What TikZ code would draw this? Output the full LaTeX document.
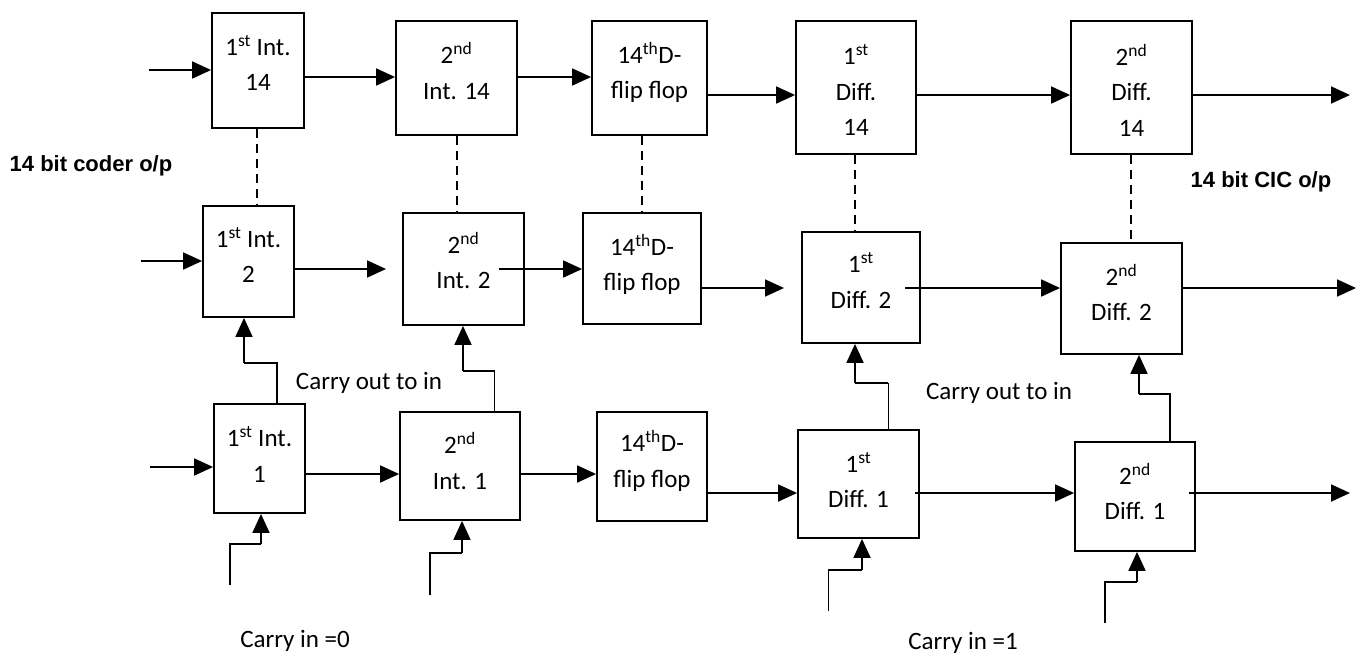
\documentclass[tikz,border=0pt]{standalone}
\usepackage{fontspec}
\setmainfont{Carlito}
\newfontfamily\arialfont{Liberation Sans}
\usetikzlibrary{arrows.meta}
\begin{document}
\begin{tikzpicture}[x=1pt,y=-1pt,
  blk/.style 2 args={draw,line width=1.8pt,minimum width=#1pt,minimum height=#2pt,inner sep=0pt},
  txt/.style={align=center,inner sep=0pt,font=\fontsize{25}{35.5}\selectfont},
  lbl/.style={inner sep=0pt,font=\fontsize{25}{30}\selectfont},
  blbl/.style={inner sep=0pt,font=\arialfont\bfseries\fontsize{22}{26}\selectfont},
  arr/.style={line width=1.8pt,-{Triangle[length=19pt,width=17pt]}},
  ln/.style={line width=1.8pt},
  thin/.style={line width=0.9pt},
  dsh/.style={line width=1.6pt,dash pattern=on 9pt off 6pt}]
\useasboundingbox (0,0) rectangle (1363,657);

% ---------- boxes ----------
\node[blk={92}{115}]  (b1) at (258,70.5) {};
\node[blk={121}{114}] (b2) at (456.5,78) {};
\node[blk={115}{114}] (b3) at (649.5,78) {};
\node[blk={120}{133}] (b4) at (856,87.5) {};
\node[blk={121}{133}] (b5) at (1131.5,87.5) {};

\node[blk={91}{111}]  (m1) at (248.5,261.5) {};
\node[blk={121}{112}] (m2) at (463.5,269) {};
\node[blk={118}{111}] (m3) at (642,268.5) {};
\node[blk={118}{111}] (m4) at (861,287.5) {};
\node[blk={121}{111}] (m5) at (1121.5,298.5) {};

\node[blk={91}{109}]  (l1) at (259.5,458.5) {};
\node[blk={120}{108}] (l2) at (460,466) {};
\node[blk={110}{109}] (l3) at (652,466.5) {};
\node[blk={121}{108}] (l4) at (858.5,484) {};
\node[blk={120}{109}] (l5) at (1135,496.5) {};

% ---------- box texts ----------
\node[txt] (b1t) at (258,63) {1\textsuperscript{st} Int.\\14};
\node[txt] (b2t) at (456.5,71) {2\textsuperscript{nd}\\Int. 14};
\node[txt] (b3t) at (649.5,72.5) {14\textsuperscript{th}D-\\flip flop};
\node[txt] (b4t) at (856,90) {1\textsuperscript{st}\\Diff.\\14};
\node[txt] (b5t) at (1131.5,90) {2\textsuperscript{nd}\\Diff.\\14};

\node[txt] (m1t) at (248.5,255) {1\textsuperscript{st} Int.\\2};
\node[txt] (m2t) at (463.5,260.5) {2\textsuperscript{nd}\\Int. 2};
\node[txt] (m3t) at (642,264.5) {14\textsuperscript{th}D-\\flip flop};
\node[txt] (m4t) at (861,280.5) {1\textsuperscript{st}\\Diff. 2};
\node[txt] (m5t) at (1121.5,292.5) {2\textsuperscript{nd}\\Diff. 2};

\node[txt] (l1t) at (259.5,454.5) {1\textsuperscript{st} Int.\\1};
\node[txt] (l2t) at (460,461) {2\textsuperscript{nd}\\Int. 1};
\node[txt] (l3t) at (652,461) {14\textsuperscript{th}D-\\flip flop};
\node[txt] (l4t) at (858.5,480) {1\textsuperscript{st}\\Diff. 1};
\node[txt] (l5t) at (1135,491.5) {2\textsuperscript{nd}\\Diff. 1};

% ---------- labels ----------
\node[blbl] (lin)  at (91,166) {14 bit coder o/p};
\node[blbl] (lout) at (1261,182) {14 bit CIC o/p};
\node[lbl] (co1) at (369,383) {Carry out to in};
\node[lbl] (co2) at (999,393) {Carry out to in};
\node[lbl] (ci0) at (295,641) {Carry in =0};
\node[lbl] (ci1) at (963,643) {Carry in =1};

% ---------- free end coordinates ----------
\coordinate (inT) at (149,70);
\coordinate (inM) at (141,261);
\coordinate (inL) at (150,467);
\coordinate (outT) at (1350,95);
\coordinate (outM) at (1356,288);
\coordinate (outL) at (1350,493);
\coordinate (m1e) at (386,269);
\coordinate (m2s) at (498.5,269);
\coordinate (m3e) at (784,288);
\coordinate (m4s) at (905,288);
\coordinate (l4s) at (915,493);
\coordinate (l5s) at (1189,493);

% ---------- top row ----------
\draw[arr] (inT) -- (b1.west |- inT);
\draw[arr] (b1.east |- 0,77) -- (b2.west |- 0,77);
\draw[arr] (b2.east |- 0,77) -- (b3.west |- 0,77);
\draw[arr] (b3.east |- 0,95) -- (b4.west |- 0,95);
\draw[arr] (b4.east |- 0,95) -- (b5.west |- 0,95);
\draw[arr] (b5.east |- outT) -- (outT);

% ---------- middle row ----------
\draw[arr] (inM) -- (m1.west |- inM);
\draw[arr] (m1.east |- m1e) -- (m1e);
\draw[arr] (m2s) -- (m3.west |- m2s);
\draw[arr] (m3.east |- m3e) -- (m3e);
\draw[arr] (m4s) -- (m5.west |- m4s);
\draw[arr] (m5.east |- outM) -- (outM);

% ---------- bottom row ----------
\draw[arr] (inL) -- (l1.west |- inL);
\draw[arr] (l1.east |- 0,474) -- (l2.west |- 0,474);
\draw[arr] (l2.east |- 0,474) -- (l3.west |- 0,474);
\draw[arr] (l3.east |- 0,493) -- (l4.west |- 0,493);
\draw[arr] (l4s) -- (l5.west |- l4s);
\draw[arr] (l5s) -- (outL);

% ---------- dashed links ----------
\draw[dsh] (b1.south -| 257,0) -- (m1.north -| 257,0);
\draw[dsh] (b2.south -| 457,0) -- (m2.north -| 457,0);
\draw[dsh] (b3.south -| 642,0) -- (m3.north -| 642,0);
\draw[dsh] (b4.south -| 855,0) -- (m4.north -| 855,0);
\draw[dsh] (b5.south -| 1131,0) -- (m5.north -| 1131,0);

% ---------- carry out to in ----------
\draw[ln] (l1.north -| 277,0) -- (277,363) -- (244,363);
\draw[arr] (244,363) -- (m1.south -| 244,0);
\draw[ln] (l2.north -| 494.5,0) -- (494.5,371) -- (463,371);
\draw[arr] (463,371) -- (m2.south -| 463,0);
\draw[thin] (l4.north -| 888,0) -- (888,383);
\draw[ln] (888,383) -- (855,383);
\draw[arr] (855,383) -- (m4.south -| 855,0);
\draw[ln] (l5.north -| 1170,0) -- (1170,394) -- (1139,394);
\draw[arr] (1139,394) -- (m5.south -| 1139,0);

% ---------- carry in ----------
\draw[ln] (230,585) -- (230,544) -- (261,544);
\draw[arr] (261,544) -- (l1.south -| 261,0);
\draw[ln] (430,595) -- (430,553) -- (462,553);
\draw[arr] (462,553) -- (l2.south -| 462,0);
\draw[ln] (828.5,611) -- (828.5,570) -- (862,570);
\draw[arr] (862,570) -- (l4.south -| 862,0);
\draw[ln] (1105,623) -- (1105,582) -- (1137,582);
\draw[arr] (1137,582) -- (l5.south -| 1137,0);
\end{tikzpicture}
\end{document}
